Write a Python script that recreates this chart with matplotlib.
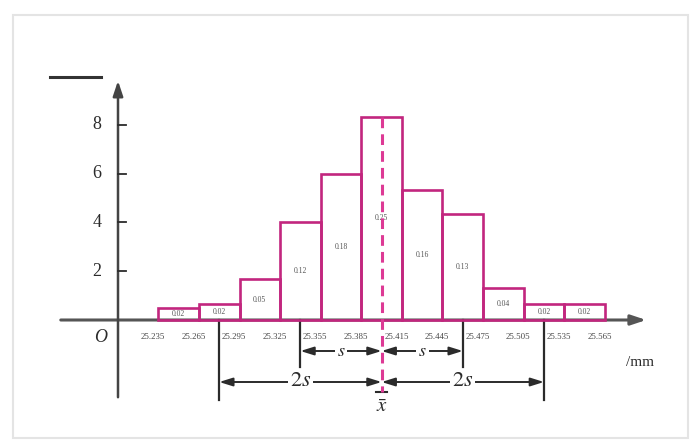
import matplotlib
matplotlib.use("Agg")
import matplotlib.pyplot as plt
from matplotlib.patches import Rectangle

plt.rcParams['font.family'] = ['Liberation Serif', 'DejaVu Serif']
plt.rcParams['mathtext.fontset'] = 'stix'

# bin edges (mm), height = frequency / bin width, printed frequency
edges = [25.235, 25.265, 25.295, 25.325, 25.355, 25.385,
         25.415, 25.445, 25.475, 25.505, 25.535, 25.565]
heights = [0.5, 0.67, 1.67, 4.0, 6.0, 8.33, 5.33, 4.33, 1.33, 0.67, 0.67]
freq_labels = ["0.02", "0.02", "0.05", "0.12", "0.18", "0.25",
               "0.16", "0.13", "0.04", "0.02", "0.02"]
edge_labels = ["25.235", "25.265", "25.295", "25.325", "25.355", "25.385",
               "25.415", "25.445", "25.475", "25.505", "25.535", "25.565"]
y_ticks = [2, 4, 6, 8]
x_mean = 25.40
s = 0.06

bar_col = "#c2267e"
dash_col = "#dd3a95"
ink = "#2b2b2b"

# picture is 696x443 px, one bin = 40.6 px, one y unit = 24.4 px
W, H = 696, 443
x0_px, y0_px = 158.3, 320.0
bw = edges[1] - edges[0]
kx = bw / 40.6
ky = 1 / 24.4


def X(px):
    return edges[0] + (px - x0_px) * kx


def Y(py):
    return (y0_px - py) * ky


fig = plt.figure(figsize=(W / 100, H / 100), dpi=100)
ax = fig.add_axes([0, 0, 1, 1])
ax.set_xlim(X(0), X(W))
ax.set_ylim(Y(H), Y(0))
ax.axis("off")

# faint frame around the picture
fig.patches.append(Rectangle((13 / W, 1 - 438 / H), 675 / W, 423 / H,
                             transform=fig.transFigure, fill=False,
                             ec="#e4e4e4", lw=1.5))

# histogram bars
for i, h in enumerate(heights):
    ax.bar(edges[i], h, width=bw, align="edge", fill=False,
           edgecolor=bar_col, linewidth=1.9, zorder=3)
    ax.text(edges[i] + bw / 2, h / 2, freq_labels[i], ha="center",
            va="center", fontsize=5.5, color="#555555", zorder=4)

# axes with arrows
ax.annotate("", xy=(X(649), 0), xytext=(X(58), 0),
            arrowprops=dict(arrowstyle="-|>,head_length=0.9,head_width=0.3",
                            color="#555555", lw=2.2), zorder=2)
ax.annotate("", xy=(X(118), Y(78)), xytext=(X(118), Y(400)),
            arrowprops=dict(arrowstyle="-|>,head_length=0.9,head_width=0.3",
                            color="#444444", lw=1.8), zorder=2)
ax.plot([X(50), X(101)], [Y(77), Y(77)], color="#333333", lw=2.2)

for t in y_ticks:
    ax.plot([X(118), X(126)], [t, t], color=ink, lw=1.3)
    ax.text(X(97), t, str(t), ha="center", va="center", fontsize=13, color=ink)
ax.text(X(101), Y(338), "O", ha="center", va="center", fontsize=13,
        style="italic", color=ink)

for e, lab in zip(edges, edge_labels):
    ax.text(e - 0.004, Y(337), lab, ha="center", va="center", fontsize=6.3,
            color="#444444")
ax.text(X(640), Y(362), "/mm", ha="center", va="center", fontsize=11,
        color=ink)

# mean line
ax.plot([x_mean, x_mean], [heights[5], Y(392)], color=dash_col, lw=2.2,
        ls=(0, (3.5, 2)), zorder=5)
ax.plot([x_mean - 0.004, x_mean + 0.004], [Y(392), Y(392)], color=ink, lw=1.5)
ax.text(x_mean, Y(407), r"$\bar{x}$", ha="center", va="center", fontsize=15,
        color=ink)

# s and 2s markers
arr = dict(arrowstyle="<|-|>,head_length=0.8,head_width=0.25", color=ink,
           lw=1.4, shrinkA=0, shrinkB=0)
for k, y_bot, y_arr, fs, lab in [(1, Y(367), Y(351), 13, r"$s$"),
                                 (2, Y(400), Y(382), 16, r"$2s$")]:
    for sign in (-1, 1):
        xl = x_mean + sign * k * s
        ax.plot([xl, xl], [0, y_bot], color=ink, lw=1.6)
        ax.annotate("", xy=(xl, y_arr), xytext=(x_mean, y_arr),
                    arrowprops=arr)
        ax.text((xl + x_mean) / 2, y_arr, lab, ha="center", va="center",
                fontsize=fs, color=ink,
                bbox=dict(fc="white", ec="none", pad=1.5))

fig.savefig("out.png", dpi=100)
